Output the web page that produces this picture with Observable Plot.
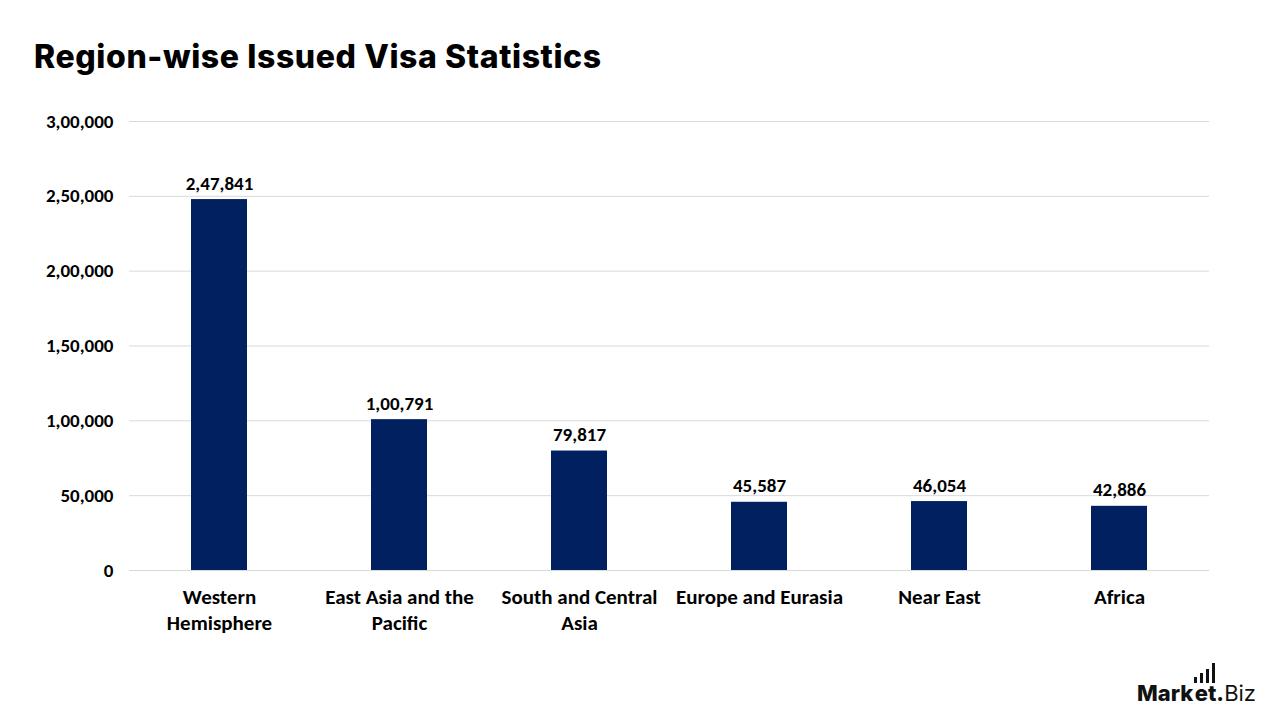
<!DOCTYPE html>
<html>
<head>
<meta charset="utf-8">
<script src="https://cdn.jsdelivr.net/npm/d3@7"></script>
<script src="https://cdn.jsdelivr.net/npm/@observablehq/plot@0.6"></script>
<style>
  html, body { margin: 0; padding: 0; background: #ffffff; }
  #wrap { position: relative; width: 1280px; height: 720px; overflow: hidden; background: #fff; }
  #title { position: absolute; left: 34px; top: 37px; font-family: Inter, "Open Sans", sans-serif; font-weight: 800; font-size: 32px; color: #000; letter-spacing: 0.6px; }
  #chart { position: absolute; left: 0; top: 100px; }
  #logo { position: absolute; right: 24px; bottom: 14px; font-family: Inter, "Open Sans", sans-serif; font-size: 22px; color: #111; display: flex; align-items: flex-end; }
  #logo b { font-weight: 800; }
  .lbars { display: inline-flex; align-items: flex-end; gap: 3px; margin: 0 1px -3px 1px; }
  .lbars span { display: inline-block; width: 3px; background: #111; }
</style>
</head>
<body>
<div id="wrap">
  <div id="title">Region-wise Issued Visa Statistics</div>
  <div id="chart"></div>
  <div id="logo"><b>Mark</b><span style="display:inline-flex;flex-direction:column;align-items:flex-end"><span class="lbars"><span style="height:6px"></span><span style="height:10px"></span><span style="height:14px"></span><span style="height:20px"></span></span><b>et</b></span><b>.</b>Biz</div>
</div>
<script>
const regions = ["Western Hemisphere", "East Asia and the Pacific", "South and Central Asia", "Europe and Eurasia", "Near East", "Africa"];
const visas = [247841, 100791, 79817, 45587, 46054, 42886];
const xTickLabels = ["Western\nHemisphere", "East Asia and the\nPacific", "South and Central\nAsia", "Europe and Eurasia", "Near East", "Africa"];
const yTicks = [0, 50000, 100000, 150000, 200000, 250000, 300000];

const data = regions.map((r, i) => ({region: r, value: visas[i]}));
const inFmt = d3.formatLocale({decimal: ".", thousands: ",", grouping: [3, 2], currency: ["", ""]}).format(",d");
const labelMap = new Map(regions.map((r, i) => [r, xTickLabels[i]]));

const font = "Carlito, Calibri, Lato, 'Open Sans', sans-serif";

const chart = Plot.plot({
  width: 1280,
  height: 620,
  marginLeft: 129,
  marginRight: 71,
  marginTop: 21,
  marginBottom: 150,
  style: {fontFamily: font, fontSize: "19px", fontWeight: "bold", color: "#000", background: "transparent"},
  x: {domain: regions, paddingInner: 0.69, paddingOuter: 0.345, align: 0.5, label: null},
  y: {domain: [0, 300000], label: null},
  marks: [
    Plot.gridY(yTicks, {stroke: "#d9d9d9", strokeOpacity: 1, strokeWidth: 1}),
    Plot.axisY(yTicks, {tickSize: 0, tickPadding: 16, tickFormat: inFmt, fontSize: 19, fontWeight: "bold", label: null}),
    Plot.axisX({tickSize: 0, tickPadding: 15, tickFormat: d => labelMap.get(d), fontSize: 21, fontWeight: "bold", lineHeight: 1.24, label: null}),
    Plot.barY(data, {x: "region", y: "value", fill: "#002060"}),
    Plot.text(data, {x: "region", y: "value", text: d => inFmt(d.value), dy: -16, fontSize: 19, fontWeight: "bold", fill: "#000"})
  ]
});
document.getElementById("chart").appendChild(chart);
</script>
</body>
</html>
